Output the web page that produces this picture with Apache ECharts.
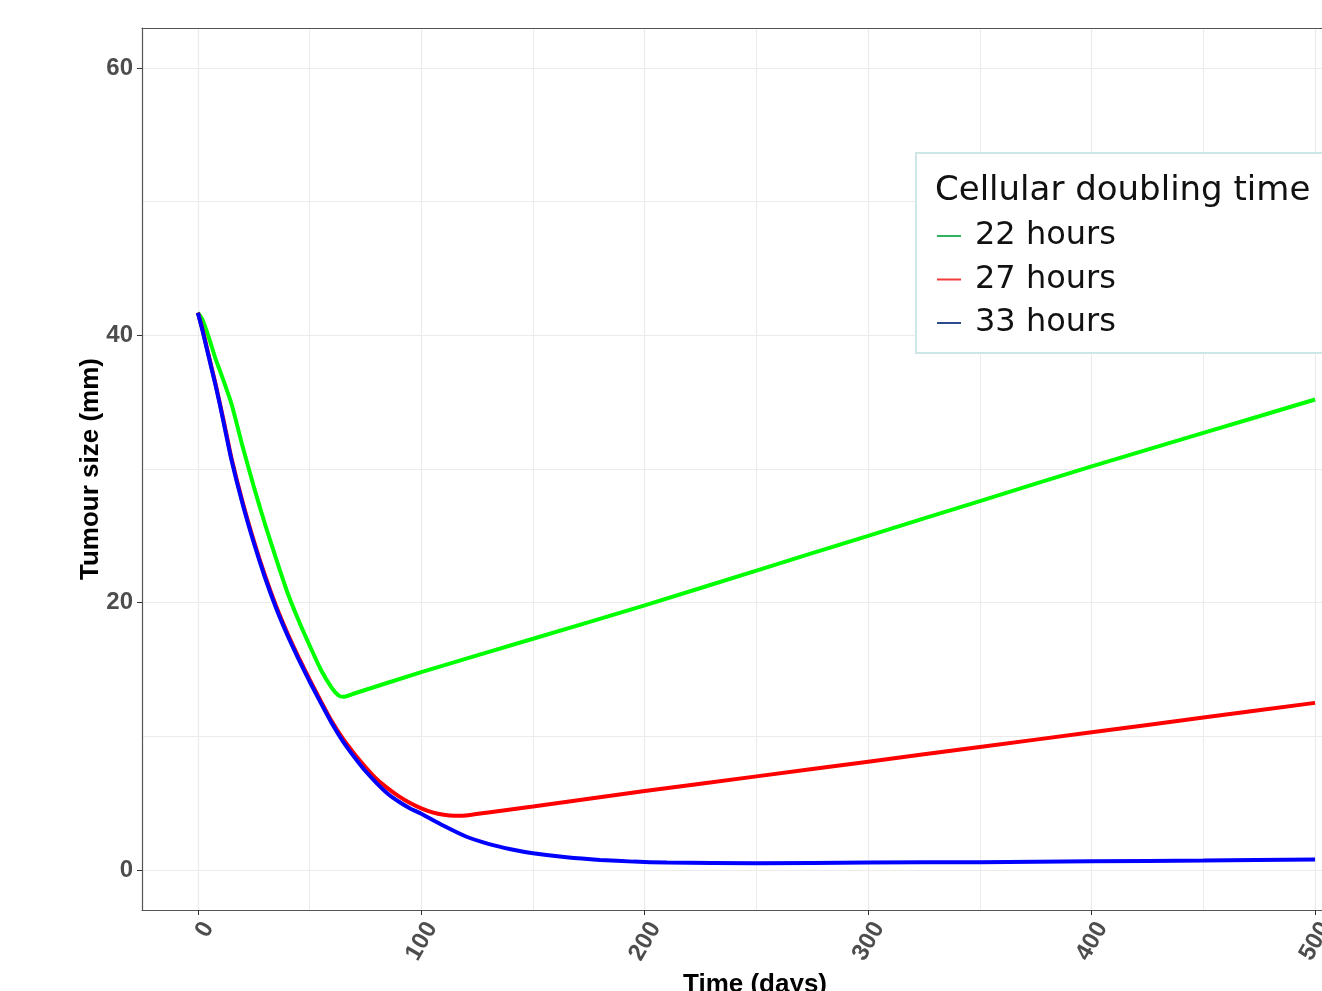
<!DOCTYPE html>
<html>
<head>
<meta charset="utf-8">
<script src="https://cdn.jsdelivr.net/npm/echarts@6/dist/echarts.min.js"></script>
<style>
html,body{margin:0;padding:0;background:#fff;overflow:hidden;}
#chart{width:1322px;height:991px;}
</style>
</head>
<body>
<div id="chart"></div>
<script>
// Data
var seriesNames = ['22 hours', '27 hours', '33 hours'];
var legendTitle = 'Cellular doubling time';
var xTicks = [0, 100, 200, 300, 400, 500];
var xMinor = [50, 150, 250, 350, 450];
var yTicks = [0, 20, 40, 60];
var yMinor = [10, 30, 50];

var green22 = [
  [0,41.7],[2,41.2],[5,39.8],[8,38.2],[10,37.3],[15,34.9],[20,31.7],[25,28.7],
  [30,25.9],[35,23.3],[40,20.8],[45,18.7],[50,16.8],[55,15.0],[60,13.6],
  [63,13.05],[65,12.95],[70,13.2],[100,14.8],[150,17.3],[200,19.8],[250,22.4],
  [300,25.0],[350,27.6],[400,30.2],[450,32.7],[500,35.2]
];
var red27 = [
  [0,41.7],[2,40.5],[4,39.1],[6,37.7],[8,36.3],[10,34.8],[12,33.25],[15,30.85],
  [20,27.55],[25,24.65],[30,22.05],[35,19.75],[40,17.75],[45,15.95],[50,14.25],
  [55,12.65],[60,11.1],[65,9.8],[70,8.7],[75,7.7],[80,6.8],[85,6.1],[90,5.5],
  [95,5.0],[100,4.6],[105,4.3],[110,4.12],[115,4.05],[120,4.07],[130,4.3],
  [150,4.75],[200,5.9],[250,7.0],[300,8.1],[350,9.2],[400,10.3],[450,11.4],[500,12.5]
];
var blue33 = [
  [0,41.7],[2,40.4],[4,39.0],[6,37.6],[8,36.2],[10,34.7],[12,33.1],[15,30.7],
  [20,27.4],[25,24.5],[30,21.9],[35,19.6],[40,17.6],[45,15.8],[50,14.1],
  [55,12.5],[60,10.95],[65,9.6],[70,8.45],[75,7.4],[80,6.5],[85,5.7],[90,5.1],
  [95,4.6],[100,4.2],[110,3.3],[120,2.5],[130,1.95],[140,1.55],[150,1.25],
  [165,0.95],[180,0.75],[195,0.62],[210,0.55],[250,0.5],[300,0.55],[350,0.58],
  [400,0.65],[450,0.7],[500,0.78]
];

var lineColors = ['#00ff00', '#ff0000', '#0000ff'];
var keyColors = ['#2fb461', '#f53a3a', '#2c4b8c'];

var chart = echarts.init(document.getElementById('chart'));
var gridColor = '#ebebeb';
var axisFont = 'Liberation Sans, Arial, sans-serif';

var option = {
  backgroundColor: '#ffffff',
  animation: false,
  title: {
    text: legendTitle,
    left: 935,
    top: 174,
    padding: 0,
    textStyle: {
      fontFamily: 'DejaVu Sans',
      fontSize: 34,
      fontWeight: 'normal',
      color: '#111111'
    }
  },
  legend: {
    orient: 'vertical',
    left: 916,
    top: 153,
    padding: [65, 260, 12, 21],
    itemGap: 7.5,
    itemWidth: 24,
    itemHeight: 2,
    icon: 'rect',
    borderColor: '#cde6e6',
    borderWidth: 2,
    backgroundColor: '#ffffff',
    textStyle: {
      fontFamily: 'DejaVu Sans',
      fontSize: 32,
      lineHeight: 36,
      color: '#111111',
      padding: [0, 0, 0, 9]
    },
    data: seriesNames.map(function (n, i) {
      return { name: n, itemStyle: { color: keyColors[i] } };
    })
  },
  grid: {
    left: 142,
    top: 28,
    bottom: 81,
    right: 0,
    outerBoundsMode: 'none',
    containLabel: false
  },
  xAxis: [
    {
      type: 'value',
      min: -25,
      max: 503.1,
      name: 'Time (days)',
      nameLocation: 'middle',
      nameGap: 47,
      nameTextStyle: {
        fontFamily: axisFont, fontSize: 26, fontWeight: 'bold', color: '#000000',
        padding: [0, 0, 0, 46]
      },
      axisLine: { show: true, onZero: false, lineStyle: { color: '#555555', width: 1.2 } },
      axisTick: { show: true, length: 5, customValues: xTicks, lineStyle: { color: '#333333' } },
      axisLabel: {
        customValues: xTicks,
        rotate: 60,
        margin: 8,
        verticalAlign: 'top',
        fontFamily: axisFont,
        fontSize: 24,
        fontWeight: 'bold',
        color: '#4d4d4d'
      },
      splitLine: { show: true, lineStyle: { color: gridColor, width: 1.2 } }
    },
    {
      type: 'value',
      min: -25,
      max: 503.1,
      position: 'top',
      axisLine: { show: true, onZero: false, lineStyle: { color: '#555555', width: 1.2 } },
      axisTick: { show: false, customValues: xMinor },
      axisLabel: { show: false, customValues: xMinor },
      splitLine: { show: true, lineStyle: { color: gridColor, width: 1 } }
    }
  ],
  yAxis: [
    {
      type: 'value',
      min: -3,
      max: 63,
      name: 'Tumour size (mm)',
      nameLocation: 'middle',
      nameGap: 38,
      nameMoveOverlap: false,
      nameTextStyle: { fontFamily: axisFont, fontSize: 26, fontWeight: 'bold', color: '#000000' },
      axisLine: { show: true, onZero: false, lineStyle: { color: '#555555', width: 1.2 } },
      axisTick: { show: true, length: 5, customValues: yTicks, lineStyle: { color: '#333333' } },
      axisLabel: {
        customValues: yTicks,
        margin: 9,
        fontFamily: axisFont,
        fontSize: 24,
        fontWeight: 'bold',
        color: '#4d4d4d'
      },
      splitLine: { show: true, lineStyle: { color: gridColor, width: 1.2 } }
    },
    {
      type: 'value',
      min: -3,
      max: 63,
      position: 'left',
      axisLine: { show: false },
      axisTick: { show: false, customValues: yMinor },
      axisLabel: { show: false, customValues: yMinor },
      splitLine: { show: true, lineStyle: { color: gridColor, width: 1 } }
    }
  ],
  series: [
    { name: seriesNames[0], data: green22, color: lineColors[0] },
    { name: seriesNames[1], data: red27, color: lineColors[1] },
    { name: seriesNames[2], data: blue33, color: lineColors[2] }
  ].map(function (s) {
    return {
      name: s.name,
      type: 'line',
      xAxisIndex: 0,
      yAxisIndex: 0,
      data: s.data,
      smooth: 0.2,
      showSymbol: false,
      symbol: 'none',
      lineStyle: { color: s.color, width: 4 },
      itemStyle: { color: s.color },
      z: 3
    };
  })
};
chart.setOption(option);
</script>
</body>
</html>
